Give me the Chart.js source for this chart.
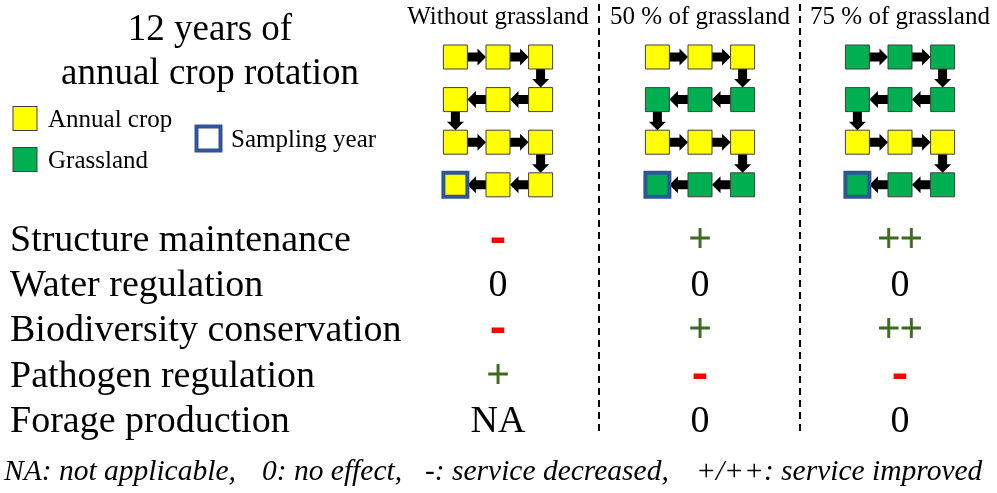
<!DOCTYPE html>
<html>
<head>
<meta charset="utf-8">
<title>Crop rotation and soil services</title>
<script src="https://cdn.jsdelivr.net/npm/chart.js@4.4.0/dist/chart.umd.min.js"></script>
<style>
  html, body { margin: 0; padding: 0; background: #fff; }
  #wrap { width: 997px; height: 493px; position: relative; }
</style>
</head>
<body>
<div id="wrap"><canvas id="chart"></canvas></div>
<script>
// scenarios (columns)
const scenarios = ['Without grassland', '50 % of grassland', '75 % of grassland'];

// land use for each of the 12 years, in rotation order (A = annual crop, G = grassland)
const rotationNoGrass = ['A', 'A', 'A', 'A', 'A', 'A', 'A', 'A', 'A', 'A', 'A', 'A'];
const rotation50 = ['A', 'A', 'A', 'G', 'G', 'G', 'A', 'A', 'A', 'G', 'G', 'G'];
const rotation75 = ['G', 'G', 'G', 'G', 'G', 'G', 'A', 'A', 'A', 'G', 'G', 'G'];
const samplingYear = 12;

// services and their effect in each scenario
const services = ['Structure maintenance', 'Water regulation', 'Biodiversity conservation',
  'Pathogen regulation', 'Forage production'];
const effectNoGrass = ['-', '0', '-', '+', 'NA'];
const effect50 = ['+', '0', '+', '-', '0'];
const effect75 = ['++', '0', '++', '-', '0'];

const titleLines = ['12 years of', 'annual crop rotation'];
const legendLabels = ['Annual crop', 'Grassland', 'Sampling year'];
const footnotes = ['NA: not applicable,', '0: no effect,', '-: service decreased,', '+/++: service improved'];

const rotations = [rotationNoGrass, rotation50, rotation75];
const effects = [effectNoGrass, effect50, effect75];

// layout
const colX = [498, 700, 900];
const cell = 42.6;
const gridTop = 57;
const rowBase = 251;
const rowStep = 45.2;
const SERIF = "'Liberation Serif', 'Times New Roman', serif";
const YELLOW = '#FFFF00', GREEN = '#00B050', EDGE = '#3F3F3F', BLUE = '#2F5597';
const PLUS = '#3E6A22', MINUS = '#FF0000';
const side = 24;

// snake path: left->right, then right->left on the next row
function yearPos(s, i) {
  const row = Math.floor(i / 3);
  const k = i % 3;
  const c = row % 2 === 0 ? k : 2 - k;
  return { x: colX[s] + (c - 1) * cell, y: gridTop + row * cell };
}

const annualPts = [], grassPts = [], samplePts = [];
rotations.forEach((rot, s) => {
  rot.forEach((use, i) => {
    const p = yearPos(s, i);
    (use === 'A' ? annualPts : grassPts).push(p);
    if (i + 1 === samplingYear) samplePts.push(p);
  });
});

function put(ctx, str, x, y, font, color, align, thicken) {
  ctx.font = font;
  ctx.fillStyle = color || '#000';
  ctx.textAlign = align || 'left';
  ctx.textBaseline = 'alphabetic';
  ctx.fillText(str, x, y);
  if (thicken) {
    ctx.strokeStyle = color;
    ctx.lineWidth = thicken;
    ctx.strokeText(str, x, y);
  }
}

function arrow(ctx, a, b) {
  const dx = b.x - a.x, dy = b.y - a.y;
  const len = Math.hypot(dx, dy);
  const ux = dx / len, uy = dy / len;
  const nx = -uy, ny = ux;
  const half = side / 2;
  const sx = a.x + ux * half, sy = a.y + uy * half;
  const ex = b.x - ux * half, ey = b.y - uy * half;
  const head = 8.5, hw = 8.5, sw = 4.5;
  const hx = ex - ux * head, hy = ey - uy * head;
  ctx.beginPath();
  ctx.moveTo(sx + nx * sw, sy + ny * sw);
  ctx.lineTo(hx + nx * sw, hy + ny * sw);
  ctx.lineTo(hx + nx * hw, hy + ny * hw);
  ctx.lineTo(ex, ey);
  ctx.lineTo(hx - nx * hw, hy - ny * hw);
  ctx.lineTo(hx - nx * sw, hy - ny * sw);
  ctx.lineTo(sx - nx * sw, sy - ny * sw);
  ctx.closePath();
  ctx.fillStyle = '#000';
  ctx.fill();
}

const diagram = {
  id: 'diagram',
  beforeDatasetsDraw(chart) {
    const { ctx, scales: { x, y } } = chart;
    ctx.save();
    // dashed separators between scenario columns
    ctx.strokeStyle = '#000';
    ctx.lineWidth = 2;
    ctx.setLineDash([7, 5]);
    for (let s = 0; s < scenarios.length - 1; s++) {
      const px = Math.round(x.getPixelForValue((colX[s] + colX[s + 1]) / 2));
      ctx.beginPath();
      ctx.moveTo(px, y.getPixelForValue(4));
      ctx.lineTo(px, y.getPixelForValue(436));
      ctx.stroke();
    }
    ctx.setLineDash([]);
    // rotation arrows
    rotations.forEach((rot, s) => {
      for (let i = 0; i < rot.length - 1; i++) {
        const p = yearPos(s, i), q = yearPos(s, i + 1);
        arrow(ctx,
          { x: x.getPixelForValue(p.x), y: y.getPixelForValue(p.y) },
          { x: x.getPixelForValue(q.x), y: y.getPixelForValue(q.y) });
      }
    });
    ctx.restore();
  },
  afterDatasetsDraw(chart) {
    const { ctx, scales: { x, y } } = chart;
    ctx.save();
    // title
    put(ctx, titleLines[0], x.getPixelForValue(210), y.getPixelForValue(40), '37px ' + SERIF, '#000', 'center');
    put(ctx, titleLines[1], x.getPixelForValue(210), y.getPixelForValue(84), '37px ' + SERIF, '#000', 'center');

    // legend
    const box = (cx, cy, fill, stroke, lw) => {
      const px = x.getPixelForValue(cx), py = y.getPixelForValue(cy);
      if (fill) { ctx.fillStyle = fill; ctx.fillRect(px - side / 2, py - side / 2, side, side); }
      ctx.strokeStyle = stroke; ctx.lineWidth = lw;
      ctx.strokeRect(px - side / 2, py - side / 2, side, side);
    };
    box(25, 118.5, YELLOW, EDGE, 1);
    box(25, 159.5, GREEN, EDGE, 1);
    box(208.5, 138.5, null, BLUE, 4);
    put(ctx, legendLabels[0], x.getPixelForValue(48), y.getPixelForValue(127), '25px ' + SERIF);
    put(ctx, legendLabels[1], x.getPixelForValue(48), y.getPixelForValue(168), '25px ' + SERIF);
    put(ctx, legendLabels[2], x.getPixelForValue(231), y.getPixelForValue(147), '25px ' + SERIF);

    // scenario headers
    scenarios.forEach((name, s) => {
      put(ctx, name, x.getPixelForValue(colX[s]), y.getPixelForValue(24), '25px ' + SERIF, '#000', 'center');
    });

    // services table
    services.forEach((name, r) => {
      const by = y.getPixelForValue(rowBase + r * rowStep);
      put(ctx, name, x.getPixelForValue(10), by, '38px ' + SERIF);
      effects.forEach((eff, s) => {
        const v = eff[r];
        const px = x.getPixelForValue(colX[s]);
        if (v === '-') put(ctx, '-', px, by - 1, 'bold 40px ' + SERIF, MINUS, 'center', 2.2);
        else if (v.startsWith('+')) put(ctx, v, px, by, '40px ' + SERIF, PLUS, 'center', 0.9);
        else put(ctx, v, px, by, '38px ' + SERIF, '#000', 'center');
      });
    });

    // footnote
    const footX = [4, 262, 425, 696];
    footnotes.forEach((t, i) => {
      put(ctx, t, x.getPixelForValue(footX[i]), y.getPixelForValue(480), 'italic 29.5px ' + SERIF);
    });
    ctx.restore();
  }
};

const sq = (color, pts, order) => ({
  data: pts,
  order: order,
  pointStyle: 'rect',
  pointRadius: side / Math.SQRT2,
  pointHoverRadius: side / Math.SQRT2,
  pointBackgroundColor: color,
  pointBorderColor: EDGE,
  pointBorderWidth: 1,
  showLine: false,
  clip: false
});

new Chart(document.getElementById('chart'), {
  type: 'scatter',
  data: {
    datasets: [
      {
        label: legendLabels[2],
        data: samplePts,
        order: 0,
        pointStyle: 'rect',
        pointRadius: side / Math.SQRT2,
        pointHoverRadius: side / Math.SQRT2,
        pointBackgroundColor: 'rgba(0,0,0,0)',
        pointBorderColor: BLUE,
        pointBorderWidth: 4,
        pointHoverBorderWidth: 4,
        showLine: false,
        clip: false
      },
      Object.assign({ label: legendLabels[0] }, sq(YELLOW, annualPts, 1)),
      Object.assign({ label: legendLabels[1] }, sq(GREEN, grassPts, 1))
    ]
  },
  options: {
    responsive: true,
    maintainAspectRatio: false,
    animation: false,
    events: [],
    layout: { padding: 0, autoPadding: false },
    scales: {
      x: { type: 'linear', min: 0, max: 997, display: false },
      y: { type: 'linear', min: 0, max: 493, reverse: true, display: false }
    },
    plugins: {
      legend: { display: false },
      tooltip: { enabled: false }
    }
  },
  plugins: [diagram]
});
</script>
</body>
</html>
